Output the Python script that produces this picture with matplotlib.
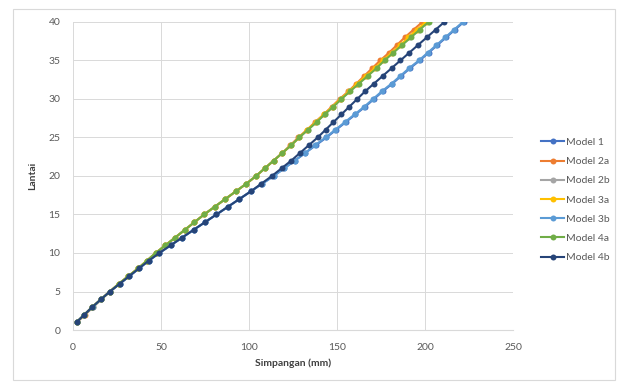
import matplotlib
matplotlib.use("Agg")
import matplotlib.pyplot as plt
from matplotlib.patches import Rectangle

# lantai (floor) 1..40
floors = list(range(1, 41))

# simpangan (mm) per model
model_1 = [2.0, 6.5, 11.0, 16.0, 21.0, 26.5, 32.0, 37.5, 43.0, 49.0,
           55.5, 62.0, 68.5, 75.0, 81.5, 88.0, 94.5, 101.0, 107.5, 114.0,
           120.0, 126.0, 132.0, 138.0, 144.0, 149.5, 155.0, 160.5, 166.0, 171.0,
           176.0, 181.5, 186.5, 191.5, 197.0, 202.0, 207.0, 212.0, 217.0, 222.0]
model_2a = [2.0, 7.0, 11.5, 16.0, 21.0, 26.0, 31.5, 37.0, 42.0, 47.0,
            52.5, 58.0, 63.5, 69.0, 74.5, 80.5, 86.5, 92.5, 98.5, 104.0,
            109.0, 114.0, 119.0, 123.5, 128.0, 133.0, 137.5, 142.5, 147.0, 151.5,
            156.5, 161.0, 165.5, 170.0, 174.5, 179.5, 184.0, 188.5, 193.5, 198.5]
model_2b = [2.0, 6.5, 11.0, 16.0, 21.0, 26.0, 31.5, 37.0, 42.0, 47.0,
            52.5, 58.0, 63.5, 69.0, 74.5, 80.5, 86.5, 92.5, 98.5, 104.0,
            109.0, 114.0, 119.0, 124.0, 128.5, 133.5, 138.0, 143.0, 147.5, 152.5,
            157.0, 162.0, 167.0, 172.0, 176.5, 181.5, 186.5, 191.5, 196.5, 201.5]
model_3a = [2.0, 6.5, 11.0, 16.0, 21.0, 26.0, 31.5, 37.0, 42.0, 47.0,
            52.5, 58.0, 63.5, 69.0, 74.5, 80.5, 86.5, 92.5, 98.5, 104.0,
            109.0, 114.0, 119.0, 124.0, 128.5, 133.0, 138.0, 142.5, 147.5, 152.0,
            157.0, 161.5, 166.5, 171.5, 176.0, 181.0, 186.0, 190.5, 195.5, 200.5]
model_3b = [2.0, 6.5, 11.5, 16.0, 21.0, 26.5, 32.0, 37.5, 43.0, 49.0,
            55.5, 62.0, 68.5, 75.0, 81.5, 88.0, 94.5, 101.0, 107.5, 114.0,
            120.0, 126.0, 132.0, 137.5, 143.5, 149.0, 154.5, 160.0, 165.5, 170.5,
            175.5, 181.0, 186.0, 191.0, 196.5, 201.5, 206.5, 211.5, 216.5, 221.5]
model_4a = [2.0, 6.5, 11.0, 16.0, 21.0, 26.0, 31.5, 37.0, 42.0, 47.0,
            52.5, 58.0, 63.5, 69.0, 74.5, 80.5, 86.5, 92.5, 98.5, 104.0,
            109.0, 114.0, 119.0, 124.0, 128.5, 133.5, 138.5, 143.0, 148.0, 152.5,
            157.5, 162.5, 167.5, 172.5, 177.0, 182.0, 187.0, 192.0, 197.0, 202.0]
model_4b = [2.0, 6.5, 11.0, 16.0, 21.0, 26.5, 32.0, 37.5, 43.0, 49.0,
            55.5, 62.0, 68.5, 75.0, 81.5, 88.0, 94.5, 101.0, 107.0, 113.0,
            118.5, 124.0, 129.0, 134.0, 139.0, 143.5, 148.0, 152.5, 157.0, 161.5,
            166.0, 171.0, 176.0, 181.0, 186.0, 191.0, 196.0, 201.0, 206.0, 211.0]

labels = ["Model 1", "Model 2a", "Model 2b", "Model 3a", "Model 3b", "Model 4a", "Model 4b"]
series = [model_1, model_2a, model_2b, model_3a, model_3b, model_4a, model_4b]
colors = ["#4472C4", "#ED7D31", "#A5A5A5", "#FFC000", "#5B9BD5", "#70AD47", "#264478"]

x_ticks = [0, 50, 100, 150, 200, 250]
y_ticks = [0, 5, 10, 15, 20, 25, 30, 35, 40]

plt.rcParams['font.family'] = ['Lato', 'DejaVu Sans']

fig = plt.figure(figsize=(6.22, 3.85), dpi=100)
ax = fig.add_axes([73 / 622, 1 - 330 / 385, 440 / 622, 308 / 385])

# outer chart border like excel
fig.patches.append(Rectangle((13 / 622, 1 - 380 / 385), 602 / 622, 371 / 385,
                             transform=fig.transFigure, fill=False,
                             edgecolor="#D9D9D9", linewidth=0.8))

for vals, lab, col in zip(series, labels, colors):
    ax.plot(vals, floors, color=col, lw=1.5, marker="o", markersize=4.3,
            markeredgewidth=0, label=lab)

ax.set_xlim(0, 250)
ax.set_ylim(0, 40)
ax.set_xticks(x_ticks)
ax.set_yticks(y_ticks)
ax.grid(True, color="#D9D9D9", lw=0.7)
ax.set_axisbelow(True)
for s in ["top", "right", "left"]:
    ax.spines[s].set_visible(False)
ax.spines["bottom"].set_color("#D9D9D9")
ax.tick_params(length=0, labelsize=7.5, colors="#595959", pad=9)

ax.set_xlabel("Simpangan (mm)", fontsize=7.5, fontweight="bold", color="#404040", labelpad=5)
ax.set_ylabel("Lantai", fontsize=7.5, fontweight="bold", color="#404040", labelpad=8)

leg = fig.legend(loc="center left", bbox_to_anchor=(536 / 622, 1 - 200 / 385),
                 frameon=False, fontsize=7.5, handlelength=2.2, handletextpad=0.2,
                 labelspacing=0.95, borderpad=0)
for t in leg.get_texts():
    t.set_color("#595959")

fig.savefig("out.png", dpi=100)
